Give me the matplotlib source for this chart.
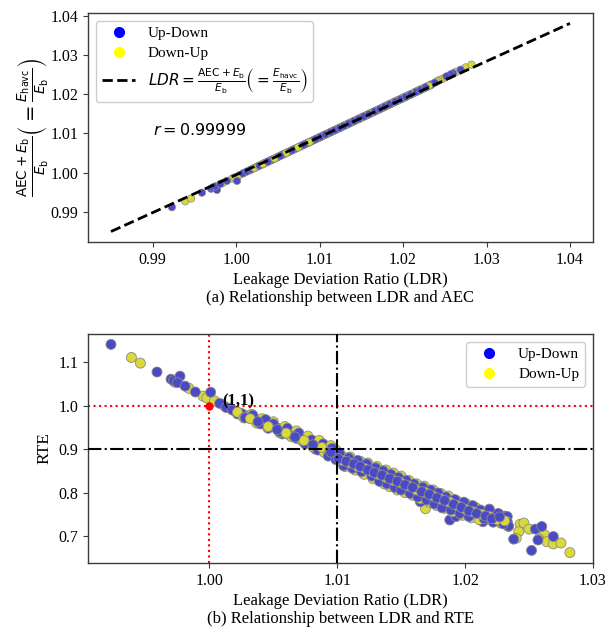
import numpy as np
import matplotlib
matplotlib.use("Agg")
import matplotlib.pyplot as plt
from matplotlib.lines import Line2D
from matplotlib.ticker import FormatStrFormatter

plt.rcParams['font.family'] = ['Liberation Serif', 'DejaVu Serif']
plt.rcParams['mathtext.fontset'] = 'dejavusans'

# Up-Down cycles
ldr_ud = [0.9923, 0.9959, 0.9970, 0.9972, 0.9977, 0.9975, 0.9981, 0.9989, 1.0001, 1.0008,
          1.0013, 1.0018, 1.0022, 1.0025, 1.0031, 1.0036, 1.0042, 1.0046, 1.0047, 1.0052,
          1.0057, 1.0059, 1.0063, 1.0068, 1.0072, 1.0078, 1.0082, 1.0083, 1.0087, 1.0091,
          1.0094, 1.0097, 1.0100, 1.0103, 1.0106, 1.0108, 1.0111, 1.0114, 1.0117, 1.0120,
          1.0122, 1.0125, 1.0128, 1.0131, 1.0134, 1.0137, 1.0140, 1.0143, 1.0146, 1.0149,
          1.0152, 1.0155, 1.0158, 1.0161, 1.0164, 1.0165, 1.0168, 1.0171, 1.0174, 1.0177,
          1.0180, 1.0183, 1.0186, 1.0188, 1.0190, 1.0193, 1.0195, 1.0198, 1.0201, 1.0204,
          1.0207, 1.0210, 1.0214, 1.0217, 1.0220, 1.0224, 1.0228, 1.0231, 1.0233, 1.0233,
          1.0234, 1.0238, 1.0255, 1.0260, 1.0257, 1.0269, 1.0252,
          1.0028, 1.0034, 1.0040, 1.0044, 1.0050, 1.0055, 1.0061, 1.0066, 1.0070, 1.0075,
          1.0080, 1.0085, 1.0089, 1.0093, 1.0096, 1.0099, 1.0102, 1.0105, 1.0109, 1.0112,
          1.0116, 1.0119, 1.0123, 1.0127, 1.0130, 1.0133, 1.0136, 1.0139, 1.0142, 1.0145,
          1.0148, 1.0150, 1.0154, 1.0157, 1.0160, 1.0163, 1.0167, 1.0170, 1.0173, 1.0176,
          1.0179, 1.0182, 1.0185, 1.0189, 1.0192, 1.0196, 1.0199, 1.0203, 1.0206, 1.0212,
          1.0215, 1.0219, 1.0222, 1.0226, 1.0230,
          1.0101, 1.0107, 1.0113, 1.0118, 1.0124, 1.0129, 1.0135, 1.0141, 1.0147, 1.0153,
          1.0159, 1.0166, 1.0172, 1.0178, 1.0184, 1.0191, 1.0197, 1.0203, 1.0209, 1.0216,
          1.0221, 1.0227, 1.0038, 1.0053, 1.0067, 1.0081, 1.0095]
rte_ud = [1.141, 1.0775, 1.061, 1.0575, 1.068, 1.053, 1.045, 1.0315, 1.031, 1.0055,
          0.996, 0.990, 0.981, 0.982, 0.975, 0.968, 0.962, 0.948, 0.955, 0.950,
          0.935, 0.944, 0.932, 0.925, 0.921, 0.915, 0.908, 0.900, 0.903, 0.897,
          0.890, 0.894, 0.884, 0.878, 0.874, 0.868, 0.870, 0.862, 0.858, 0.861,
          0.852, 0.848, 0.851, 0.840, 0.845, 0.832, 0.836, 0.828, 0.820, 0.826,
          0.814, 0.818, 0.808, 0.812, 0.800, 0.779, 0.804, 0.794, 0.786, 0.798,
          0.782, 0.776, 0.768, 0.737, 0.780, 0.745, 0.770, 0.760, 0.772, 0.752,
          0.764, 0.748, 0.733, 0.756, 0.744, 0.750, 0.738, 0.746, 0.745, 0.733,
          0.723, 0.693, 0.716, 0.722, 0.691, 0.699, 0.667,
          0.972, 0.978, 0.958, 0.968, 0.958, 0.940, 0.948, 0.930, 0.937, 0.912,
          0.921, 0.898, 0.912, 0.884, 0.902, 0.876, 0.890, 0.862, 0.880, 0.856,
          0.874, 0.848, 0.866, 0.838, 0.857, 0.826, 0.850, 0.820, 0.842, 0.812,
          0.835, 0.806, 0.828, 0.798, 0.820, 0.790, 0.812, 0.783, 0.806, 0.774,
          0.799, 0.765, 0.790, 0.760, 0.784, 0.752, 0.778, 0.745, 0.770, 0.760,
          0.740, 0.762, 0.732, 0.752, 0.728,
          0.878, 0.872, 0.866, 0.860, 0.852, 0.846, 0.840, 0.832, 0.826, 0.818,
          0.812, 0.802, 0.796, 0.788, 0.782, 0.773, 0.766, 0.758, 0.752, 0.746,
          0.740, 0.744, 0.963, 0.945, 0.928, 0.910, 0.893]
aec_ud = [0.9912, 0.9949, 0.9959, 0.9962, 0.9956, 0.9965, 0.9971, 0.9979, 0.9979, 0.9998,
          1.0003, 1.0008, 1.0012, 1.0015, 1.0021, 1.0026, 1.0032, 1.0036, 1.0037, 1.0042,
          1.0047, 1.0049, 1.0053, 1.0058, 1.0062, 1.0068, 1.0072, 1.0073, 1.0077, 1.0081,
          1.0084, 1.0087, 1.0090, 1.0093, 1.0096, 1.0098, 1.0101, 1.0104, 1.0107, 1.0110,
          1.0112, 1.0115, 1.0118, 1.0121, 1.0124, 1.0127, 1.0130, 1.0133, 1.0136, 1.0139,
          1.0142, 1.0145, 1.0148, 1.0151, 1.0154, 1.0155, 1.0158, 1.0161, 1.0164, 1.0167,
          1.0170, 1.0173, 1.0176, 1.0178, 1.0180, 1.0183, 1.0185, 1.0188, 1.0191, 1.0194,
          1.0197, 1.0200, 1.0204, 1.0207, 1.0210, 1.0214, 1.0218, 1.0221, 1.0223, 1.0223,
          1.0224, 1.0229, 1.0247, 1.0253, 1.0250, 1.0262, 1.0245,
          1.0018, 1.0024, 1.0030, 1.0034, 1.0040, 1.0045, 1.0051, 1.0056, 1.0060, 1.0065,
          1.0070, 1.0075, 1.0079, 1.0083, 1.0086, 1.0089, 1.0092, 1.0095, 1.0099, 1.0102,
          1.0106, 1.0109, 1.0113, 1.0117, 1.0120, 1.0123, 1.0126, 1.0129, 1.0132, 1.0135,
          1.0138, 1.0140, 1.0144, 1.0147, 1.0150, 1.0153, 1.0157, 1.0160, 1.0163, 1.0166,
          1.0169, 1.0172, 1.0175, 1.0179, 1.0182, 1.0186, 1.0189, 1.0193, 1.0196, 1.0202,
          1.0205, 1.0209, 1.0212, 1.0216, 1.0220,
          1.0091, 1.0097, 1.0103, 1.0108, 1.0114, 1.0119, 1.0125, 1.0131, 1.0137, 1.0143,
          1.0149, 1.0156, 1.0162, 1.0168, 1.0174, 1.0181, 1.0187, 1.0193, 1.0199, 1.0206,
          1.0211, 1.0217, 1.0028, 1.0043, 1.0057, 1.0071, 1.0085]

# Down-Up cycles
ldr_du = [0.9939, 0.9946, 0.9973, 0.9984, 0.9995, 0.9998, 1.0004, 1.0010,
          1.0016, 1.0020, 1.0026, 1.0030, 1.0034, 1.0038, 1.0043, 1.0048, 1.0053, 1.0057,
          1.0062, 1.0066, 1.0070, 1.0075, 1.0079, 1.0084, 1.0089, 1.0093, 1.0098, 1.0101,
          1.0104, 1.0107, 1.0110, 1.0113, 1.0116, 1.0119, 1.0123, 1.0126, 1.0129, 1.0132,
          1.0135, 1.0137, 1.0139, 1.0142, 1.0145, 1.0148, 1.0151, 1.0154, 1.0157, 1.0160,
          1.0163, 1.0166, 1.0169, 1.0170, 1.0173, 1.0176, 1.0179, 1.0182, 1.0185, 1.0188,
          1.0191, 1.0194, 1.0197, 1.0200, 1.0203, 1.0206, 1.0209, 1.0213, 1.0216, 1.0219,
          1.0222, 1.0226, 1.0229, 1.0234, 1.0243, 1.0246, 1.0242, 1.0240, 1.0250, 1.0262,
          1.0258, 1.0264, 1.0269, 1.0275, 1.0282,
          1.0022, 1.0027, 1.0033, 1.0037, 1.0041, 1.0045, 1.0050, 1.0055, 1.0059, 1.0064,
          1.0068, 1.0073, 1.0077, 1.0081, 1.0086, 1.0090, 1.0095, 1.0099, 1.0103, 1.0106,
          1.0110, 1.0114, 1.0118, 1.0121, 1.0124, 1.0128, 1.0131, 1.0134, 1.0138, 1.0141,
          1.0144, 1.0147, 1.0150, 1.0153, 1.0156, 1.0159, 1.0162, 1.0165, 1.0168, 1.0172,
          1.0175, 1.0178, 1.0181, 1.0184, 1.0187, 1.0190, 1.0193, 1.0198, 1.0201, 1.0205,
          1.0208, 1.0211, 1.0218, 1.0224, 1.0228,
          1.0104, 1.0110, 1.0116, 1.0121, 1.0127, 1.0132, 1.0138, 1.0144, 1.0150, 1.0156,
          1.0162, 1.0169, 1.0175, 1.0181, 1.0188, 1.0194, 1.0200, 1.0206, 1.0213, 1.0219,
          1.0225, 1.0231, 1.0032, 1.0046, 1.0060, 1.0074, 1.0088]
rte_du = [1.111, 1.098, 1.054, 1.040, 1.022, 1.018, 1.011, 1.003,
          0.994, 0.988, 0.980, 0.977, 0.970, 0.966, 0.960, 0.957, 0.948, 0.946,
          0.940, 0.935, 0.930, 0.922, 0.916, 0.912, 0.904, 0.898, 0.889, 0.880,
          0.872, 0.878, 0.866, 0.872, 0.862, 0.855, 0.858, 0.846, 0.842, 0.848,
          0.836, 0.820, 0.838, 0.826, 0.830, 0.818, 0.822, 0.811, 0.815, 0.803,
          0.808, 0.796, 0.763, 0.800, 0.790, 0.783, 0.792, 0.778, 0.786, 0.772,
          0.776, 0.764, 0.768, 0.756, 0.762, 0.750, 0.755, 0.745, 0.750, 0.740,
          0.743, 0.735, 0.740, 0.722, 0.727, 0.730, 0.710, 0.695, 0.716, 0.703,
          0.693, 0.687, 0.682, 0.684, 0.662,
          0.985, 0.972, 0.980, 0.960, 0.970, 0.952, 0.963, 0.938, 0.952, 0.929,
          0.942, 0.918, 0.930, 0.905, 0.920, 0.892, 0.908, 0.898, 0.886, 0.860,
          0.882, 0.852, 0.872, 0.842, 0.868, 0.832, 0.860, 0.826, 0.852, 0.814,
          0.845, 0.806, 0.838, 0.800, 0.828, 0.794, 0.820, 0.786, 0.815, 0.778,
          0.806, 0.770, 0.798, 0.764, 0.792, 0.756, 0.782, 0.748, 0.774, 0.742,
          0.766, 0.738, 0.756, 0.748, 0.730,
          0.874, 0.868, 0.860, 0.856, 0.848, 0.842, 0.835, 0.828, 0.822, 0.815,
          0.806, 0.800, 0.792, 0.785, 0.778, 0.770, 0.762, 0.756, 0.750, 0.745,
          0.738, 0.735, 0.970, 0.952, 0.937, 0.920, 0.904]
aec_du = [0.9927, 0.9934, 0.9963, 0.9974, 0.9985, 0.9988, 0.9994, 1.0000,
          1.0006, 1.0010, 1.0016, 1.0020, 1.0024, 1.0028, 1.0033, 1.0038, 1.0043, 1.0047,
          1.0052, 1.0056, 1.0060, 1.0065, 1.0069, 1.0074, 1.0079, 1.0083, 1.0088, 1.0091,
          1.0094, 1.0097, 1.0100, 1.0103, 1.0106, 1.0109, 1.0113, 1.0116, 1.0119, 1.0122,
          1.0125, 1.0127, 1.0129, 1.0132, 1.0135, 1.0138, 1.0141, 1.0144, 1.0147, 1.0150,
          1.0153, 1.0156, 1.0159, 1.0160, 1.0163, 1.0166, 1.0170, 1.0173, 1.0176, 1.0179,
          1.0182, 1.0185, 1.0188, 1.0191, 1.0194, 1.0197, 1.0200, 1.0204, 1.0207, 1.0210,
          1.0213, 1.0217, 1.0220, 1.0225, 1.0235, 1.0238, 1.0234, 1.0232, 1.0242, 1.0255,
          1.0251, 1.0257, 1.0262, 1.0268, 1.0275,
          1.0012, 1.0017, 1.0023, 1.0027, 1.0031, 1.0035, 1.0040, 1.0045, 1.0049, 1.0054,
          1.0058, 1.0063, 1.0067, 1.0071, 1.0076, 1.0080, 1.0085, 1.0089, 1.0093, 1.0096,
          1.0100, 1.0104, 1.0108, 1.0111, 1.0114, 1.0118, 1.0121, 1.0124, 1.0128, 1.0131,
          1.0134, 1.0137, 1.0140, 1.0143, 1.0146, 1.0149, 1.0152, 1.0155, 1.0158, 1.0162,
          1.0165, 1.0168, 1.0171, 1.0174, 1.0177, 1.0180, 1.0183, 1.0188, 1.0191, 1.0195,
          1.0198, 1.0201, 1.0208, 1.0214, 1.0218,
          1.0094, 1.0100, 1.0106, 1.0111, 1.0117, 1.0122, 1.0128, 1.0134, 1.0140, 1.0146,
          1.0152, 1.0159, 1.0165, 1.0171, 1.0178, 1.0184, 1.0190, 1.0196, 1.0203, 1.0209,
          1.0215, 1.0221, 1.0022, 1.0036, 1.0050, 1.0064, 1.0078]

# reference line in panel (a)
line_x = [0.985, 1.040]
line_y = [0.985, 1.038]
r_value = 0.99999

series_labels = ['Up-Down', 'Down-Up']
legend_colors = ['blue', 'yellow']
fill_colors = ['#4a4ac6', '#d9d93a']


def interleave(xa, ya, xb, yb):
    """Mix the two series so neither is fully drawn on top."""
    xs, ys, cs = [], [], []
    n = max(len(xa), len(xb))
    for i in range(n):
        if i < len(xa):
            xs.append(xa[i]); ys.append(ya[i]); cs.append(fill_colors[0])
        if i < len(xb):
            xs.append(xb[i]); ys.append(yb[i]); cs.append(fill_colors[1])
    return xs, ys, cs


fig = plt.figure(figsize=(6.1, 6.35), dpi=100)
ax1 = fig.add_axes([0.1443, 0.619, 0.8277, 0.3605])
ax2 = fig.add_axes([0.1443, 0.1134, 0.8277, 0.3606])

for ax in (ax1, ax2):
    for sp in ax.spines.values():
        sp.set_color('#3a3a3a')
        sp.set_linewidth(1.0)
    ax.tick_params(labelsize=11.5, length=3.5, width=0.8, color='#3a3a3a')

# ---- panel (a)
xs, ys, cs = interleave(ldr_ud, aec_ud, ldr_du, aec_du)
ax1.scatter(xs, ys, s=28, c=cs, edgecolors='#8a8a8a', linewidths=0.5, zorder=2)
ax1.plot(line_x, line_y, 'k--', lw=2, zorder=3)
ax1.text(0.99, 1.0107, r'$r = %.5f$' % r_value, fontsize=11.5, va='center')
ax1.set_xticks([0.99, 1.00, 1.01, 1.02, 1.03, 1.04])
ax1.set_yticks([0.99, 1.00, 1.01, 1.02, 1.03, 1.04])
ax1.xaxis.set_major_formatter(FormatStrFormatter('%.2f'))
ax1.yaxis.set_major_formatter(FormatStrFormatter('%.2f'))
ax1.set_xlabel('Leakage Deviation Ratio (LDR)', fontsize=12, labelpad=3)
ax1.set_ylabel(r'$\frac{\mathrm{AEC}+E_\mathrm{b}}{E_\mathrm{b}}\left(=\frac{E_\mathrm{havc}}{E_\mathrm{b}}\right)$',
               fontsize=14, labelpad=0)
handles1 = [Line2D([], [], ls='none', marker='o', ms=7, color=legend_colors[0]),
            Line2D([], [], ls='none', marker='o', ms=7, color=legend_colors[1]),
            Line2D([], [], ls='--', color='k', lw=2)]
labels1 = series_labels + [r'$LDR = \frac{\mathrm{AEC}+E_\mathrm{b}}{E_\mathrm{b}}\left(=\frac{E_\mathrm{havc}}{E_\mathrm{b}}\right)$']
ax1.legend(handles1, labels1, loc='upper left', fontsize=11, handlelength=2.2,
           borderaxespad=0.5, framealpha=1, edgecolor='#cccccc', labelspacing=0.4)
ax1.text(0.5, -0.245, '(a) Relationship between LDR and AEC', transform=ax1.transAxes,
         ha='center', va='center', fontsize=12)

# ---- panel (b)
ax2.axvline(1.0, color='red', ls=':', lw=1.5, zorder=1)
ax2.axhline(1.0, color='red', ls=':', lw=1.5, zorder=1)
xs, ys, cs = interleave(ldr_ud, rte_ud, ldr_du, rte_du)
ax2.scatter(xs, ys, s=52, c=cs, edgecolors='#8a8a8a', linewidths=0.6, zorder=2)
ax2.axvline(1.01, color='k', ls='-.', lw=1.5, zorder=3)
ax2.axhline(0.9, color='k', ls='-.', lw=1.5, zorder=3)
ax2.plot([1.0], [1.0], 'o', color='red', ms=5, zorder=4)
ax2.text(1.001, 1.009, '(1,1)', fontsize=12, fontweight='bold', va='center', zorder=5)
ax2.set_xticks([1.00, 1.01, 1.02, 1.03])
ax2.set_yticks([0.7, 0.8, 0.9, 1.0, 1.1])
ax2.xaxis.set_major_formatter(FormatStrFormatter('%.2f'))
ax2.yaxis.set_major_formatter(FormatStrFormatter('%.1f'))
ax2.set_xlabel('Leakage Deviation Ratio (LDR)', fontsize=12, labelpad=3)
ax2.set_ylabel('RTE', fontsize=12.5)
handles2 = [Line2D([], [], ls='none', marker='o', ms=7, color=legend_colors[0]),
            Line2D([], [], ls='none', marker='o', ms=7, color=legend_colors[1])]
ax2.legend(handles2, series_labels, loc='upper right', fontsize=11, handlelength=2.2,
           framealpha=1, edgecolor='#cccccc', labelspacing=0.4)
ax2.text(0.5, -0.245, '(b) Relationship between LDR and RTE', transform=ax2.transAxes,
         ha='center', va='center', fontsize=12)

fig.savefig('out.png', dpi=100)
